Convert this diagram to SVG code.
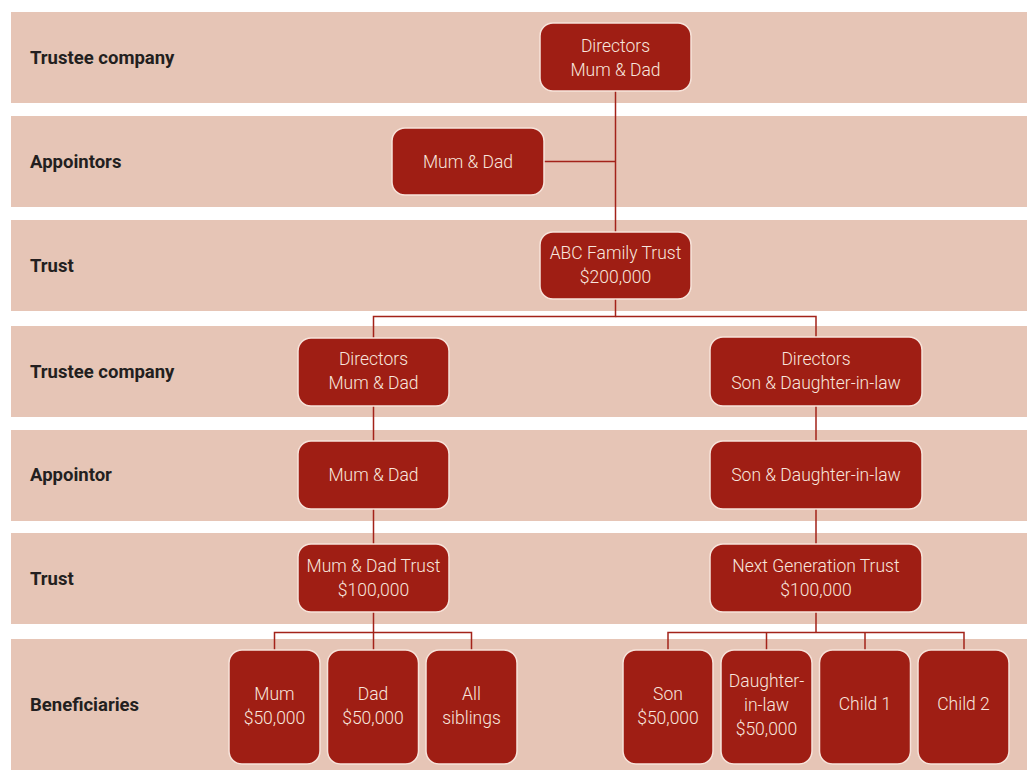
<svg xmlns="http://www.w3.org/2000/svg" width="1027" height="770" viewBox="0 0 1027 770">
<style>
.band{fill:#e6c5b6}
.lbl{font-family:Roboto,"Liberation Sans",sans-serif;font-weight:bold;font-size:18.5px;fill:#231f20}
.box{fill:#9f1e14;stroke:#f7e3da;stroke-width:1.5}
.t{font-family:Roboto,"Liberation Sans",sans-serif;font-weight:300;font-size:17.5px;fill:#f8e6de;text-anchor:middle}
.c{fill:none;stroke:#a3231a;stroke-width:1.5}
</style>
<rect width="1027" height="770" fill="#ffffff"/>
<g id="bands">
<rect class="band" x="11" y="12" width="1016" height="91"/>
<rect class="band" x="11" y="116" width="1016" height="91"/>
<rect class="band" x="11" y="220" width="1016" height="91"/>
<rect class="band" x="11" y="326" width="1016" height="91"/>
<rect class="band" x="11" y="430" width="1016" height="91"/>
<rect class="band" x="11" y="533" width="1016" height="91"/>
<rect class="band" x="11" y="639" width="1016" height="131"/>
<text class="lbl" x="30" y="64">Trustee company</text>
<text class="lbl" x="30" y="168">Appointors</text>
<text class="lbl" x="30" y="272">Trust</text>
<text class="lbl" x="30" y="378">Trustee company</text>
<text class="lbl" x="30" y="481">Appointor</text>
<text class="lbl" x="30" y="585">Trust</text>
<text class="lbl" x="30" y="711">Beneficiaries</text>
</g>
<g id="connectors">
<path class="c" d="M615.5 91V232"/>
<path class="c" d="M544 161.5H615.5"/>
<path class="c" d="M615.5 299V316.5H373.5V338"/>
<path class="c" d="M615.5 316.5H816V337"/>
<path class="c" d="M373.5 406V441M373.5 509V544"/>
<path class="c" d="M816 406V441M816 509V544"/>
<path class="c" d="M373.5 612V650M274.5 650V632.5H471.5V650"/>
<path class="c" d="M816 612V632.5M668 650V632.5H964V650M766.5 632.5V650M865 632.5V650"/>
</g>
<g id="n-directors-top"><rect class="box" x="540" y="23" width="151" height="68" rx="13"/><text class="t" x="615.5" y="52">Directors</text><text class="t" x="615.5" y="76">Mum &amp; Dad</text></g>
<g id="n-appointors-top"><rect class="box" x="392" y="128" width="152" height="67" rx="13"/><text class="t" x="468" y="168">Mum &amp; Dad</text></g>
<g id="n-abc-trust"><rect class="box" x="540" y="232" width="151" height="67" rx="13"/><text class="t" x="615.5" y="259">ABC Family Trust</text><text class="t" x="615.5" y="283">$200,000</text></g>
<g id="n-directors-left"><rect class="box" x="298" y="338" width="151" height="68" rx="13"/><text class="t" x="373.5" y="365">Directors</text><text class="t" x="373.5" y="389">Mum &amp; Dad</text></g>
<g id="n-directors-right"><rect class="box" x="710" y="337" width="212" height="69" rx="13"/><text class="t" x="816" y="365">Directors</text><text class="t" x="816" y="389">Son &amp; Daughter-in-law</text></g>
<g id="n-appointor-left"><rect class="box" x="298" y="441" width="151" height="68" rx="13"/><text class="t" x="373.5" y="481">Mum &amp; Dad</text></g>
<g id="n-appointor-right"><rect class="box" x="710" y="441" width="212" height="68" rx="13"/><text class="t" x="816" y="481">Son &amp; Daughter-in-law</text></g>
<g id="n-mumdad-trust"><rect class="box" x="298" y="544" width="151" height="68" rx="13"/><text class="t" x="373.5" y="572">Mum &amp; Dad Trust</text><text class="t" x="373.5" y="596">$100,000</text></g>
<g id="n-nextgen-trust"><rect class="box" x="710" y="544" width="212" height="68" rx="13"/><text class="t" x="816" y="572">Next Generation Trust</text><text class="t" x="816" y="596">$100,000</text></g>
<g id="n-mum"><rect class="box" x="229" y="650" width="91" height="114" rx="13"/><text class="t" x="274.5" y="700">Mum</text><text class="t" x="274.5" y="724">$50,000</text></g>
<g id="n-dad"><rect class="box" x="327.5" y="650" width="91" height="114" rx="13"/><text class="t" x="373" y="700">Dad</text><text class="t" x="373" y="724">$50,000</text></g>
<g id="n-siblings"><rect class="box" x="426" y="650" width="91" height="114" rx="13"/><text class="t" x="471.5" y="700">All</text><text class="t" x="471.5" y="724">siblings</text></g>
<g id="n-son"><rect class="box" x="623" y="650" width="90" height="114" rx="13"/><text class="t" x="668" y="700">Son</text><text class="t" x="668" y="724">$50,000</text></g>
<g id="n-daughter"><rect class="box" x="721" y="650" width="91" height="114" rx="13"/><text class="t" x="766.5" y="687">Daughter-</text><text class="t" x="766.5" y="711">in-law</text><text class="t" x="766.5" y="735">$50,000</text></g>
<g id="n-child1"><rect class="box" x="819.5" y="650" width="91" height="114" rx="13"/><text class="t" x="865" y="710">Child 1</text></g>
<g id="n-child2"><rect class="box" x="918" y="650" width="91" height="114" rx="13"/><text class="t" x="963.5" y="710">Child 2</text></g>
</svg>
